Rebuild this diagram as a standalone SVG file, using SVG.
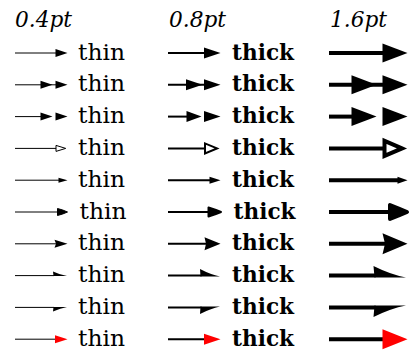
<svg xmlns="http://www.w3.org/2000/svg" width="415" height="352" viewBox="0 0 415 352">
<style>
.ln{stroke:#000;fill:none}
.w1{stroke-width:1}.w2{stroke-width:2}.w4{stroke-width:4}
.hd{fill:#000}
.red{fill:#f00}
.open{fill:#fff;stroke:#000;stroke-linejoin:miter}
.rnd{fill:#000;stroke:#000;stroke-linejoin:round}
.hdr{font-style:italic;font-size:22px}
.thin{font-size:23px}
.thick{font-weight:bold;font-size:23px}
</style>
<rect width="415" height="352" fill="#fff"/>
<g id="headers" font-family="DejaVu Serif, serif" fill="#000">
<text class="hdr" x="15" y="26.5" textLength="57" lengthAdjust="spacingAndGlyphs">0.4pt</text>
<text class="hdr" x="169" y="26.5" textLength="57" lengthAdjust="spacingAndGlyphs">0.8pt</text>
<text class="hdr" x="330" y="26.5" textLength="57" lengthAdjust="spacingAndGlyphs">1.6pt</text>
</g>
<g id="labels" font-family="DejaVu Serif, serif" fill="#000">
<g id="row1"><text class="thin" x="78" y="59.5" textLength="47" lengthAdjust="spacingAndGlyphs">thin</text><text class="thick" x="232" y="59.5" textLength="62" lengthAdjust="spacingAndGlyphs">thick</text></g>
<g id="row2"><text class="thin" x="78" y="91.3" textLength="47" lengthAdjust="spacingAndGlyphs">thin</text><text class="thick" x="232" y="91.3" textLength="62" lengthAdjust="spacingAndGlyphs">thick</text></g>
<g id="row3"><text class="thin" x="78" y="123.1" textLength="47" lengthAdjust="spacingAndGlyphs">thin</text><text class="thick" x="232" y="123.1" textLength="62" lengthAdjust="spacingAndGlyphs">thick</text></g>
<g id="row4"><text class="thin" x="78" y="154.9" textLength="47" lengthAdjust="spacingAndGlyphs">thin</text><text class="thick" x="232" y="154.9" textLength="62" lengthAdjust="spacingAndGlyphs">thick</text></g>
<g id="row5"><text class="thin" x="78" y="186.7" textLength="47" lengthAdjust="spacingAndGlyphs">thin</text><text class="thick" x="232" y="186.7" textLength="62" lengthAdjust="spacingAndGlyphs">thick</text></g>
<g id="row6"><text class="thin" x="79.5" y="218.5" textLength="47" lengthAdjust="spacingAndGlyphs">thin</text><text class="thick" x="233.5" y="218.5" textLength="62" lengthAdjust="spacingAndGlyphs">thick</text></g>
<g id="row7"><text class="thin" x="78" y="250.3" textLength="47" lengthAdjust="spacingAndGlyphs">thin</text><text class="thick" x="232" y="250.3" textLength="62" lengthAdjust="spacingAndGlyphs">thick</text></g>
<g id="row8"><text class="thin" x="78" y="282.1" textLength="47" lengthAdjust="spacingAndGlyphs">thin</text><text class="thick" x="232" y="282.1" textLength="62" lengthAdjust="spacingAndGlyphs">thick</text></g>
<g id="row9"><text class="thin" x="78" y="313.9" textLength="47" lengthAdjust="spacingAndGlyphs">thin</text><text class="thick" x="232" y="313.9" textLength="62" lengthAdjust="spacingAndGlyphs">thick</text></g>
<g id="row10"><text class="thin" x="78" y="345.7" textLength="47" lengthAdjust="spacingAndGlyphs">thin</text><text class="thick" x="232" y="345.7" textLength="62" lengthAdjust="spacingAndGlyphs">thick</text></g>
</g>
<g id="arrows">
<g id="a1">
<path class="ln w1" d="M15 53H56.5"/><path class="hd" transform="translate(67.5,53)" d="M0,0L-12,-4L-12,4Z"/>
<path class="ln w2" d="M168 53H205"/><path class="hd" transform="translate(220.5,53)" d="M0,0L-16.5,-5.5L-16.5,5.5Z"/>
<path class="ln w4" d="M329 53H383.5"/><path class="hd" transform="translate(407.5,53)" d="M0,0L-25,-9.5L-25,9.5Z"/>
</g>
<g id="a2">
<path class="ln w1" d="M15 84.8H56.5"/><path class="hd" transform="translate(67.5,84.8)" d="M0,0L-12,-4L-12,4Z"/><path class="hd" transform="translate(52.5,84.8)" d="M0,0L-12,-4L-12,4Z"/>
<path class="ln w2" d="M168 84.8H205"/><path class="hd" transform="translate(220.5,84.8)" d="M0,0L-16.5,-5.5L-16.5,5.5Z"/><path class="hd" transform="translate(202.5,84.8)" d="M0,0L-16.5,-5.5L-16.5,5.5Z"/>
<path class="ln w4" d="M329 84.8H383.5"/><path class="hd" transform="translate(407.5,84.8)" d="M0,0L-25,-9.5L-25,9.5Z"/><path class="hd" transform="translate(376.5,84.8)" d="M0,0L-25,-9.5L-25,9.5Z"/>
</g>
<g id="a3">
<path class="ln w1" d="M15 116.6H41.5"/><path class="hd" transform="translate(67.5,116.6)" d="M0,0L-12,-4L-12,4Z"/><path class="hd" transform="translate(52.5,116.6)" d="M0,0L-12,-4L-12,4Z"/>
<path class="ln w2" d="M168 116.6H187"/><path class="hd" transform="translate(220.5,116.6)" d="M0,0L-16.5,-5.5L-16.5,5.5Z"/><path class="hd" transform="translate(201.5,116.6)" d="M0,0L-15,-5.5L-15,5.5Z"/>
<path class="ln w4" d="M329 116.6H352.5"/><path class="hd" transform="translate(407.5,116.6)" d="M0,0L-25,-9.5L-25,9.5Z"/><path class="hd" transform="translate(376.5,116.6)" d="M0,0L-25,-9.5L-25,9.5Z"/>
</g>
<g id="a4">
<path class="ln w1" d="M15 148.4H56"/><path class="open w1" transform="translate(67.5,148.4)" d="M-1.8,0L-11.5,-3L-11.5,3Z"/>
<path class="ln w2" d="M168 148.4H205"/><path class="open w2" transform="translate(220.5,148.4)" d="M-3.5,0L-15.5,-5L-15.5,5Z"/>
<path class="ln w4" d="M329 148.4H384.5"/><path class="open w4" transform="translate(407.5,148.4)" d="M-5.5,0L-23,-7.5L-23,7.5Z"/>
</g>
<g id="a5">
<path class="ln w1" d="M15 180.2H59.5"/><path class="hd" transform="translate(67.5,180.2)" d="M0,0L-9,-2.5L-9,2.5Z"/>
<path class="ln w2" d="M168 180.2H210.5"/><path class="hd" transform="translate(220.5,180.2)" d="M0,0L-11,-3.5L-11,3.5Z"/>
<path class="ln w4" d="M329 180.2H398.5"/><path class="hd" transform="translate(407.5,180.2)" d="M0,0L-10,-3.5L-10,3.5Z"/>
</g>
<g id="a6">
<path class="ln w1" d="M15 212H58"/><path class="rnd w1" transform="translate(67.5,212)" d="M0,0Q-4.5,-2.2-10,-3.5L-10,3.5Q-4.5,2.2 0,0Z"/>
<path class="ln w2" d="M168 212H209"/><path class="rnd w2" transform="translate(221,212)" d="M0,0Q-6,-2.5-12.5,-4.5L-12.5,4.5Q-6,2.5 0,0Z"/>
<path class="ln w4" d="M329 212H391"/><path class="rnd w4" transform="translate(407,212)" d="M0,0Q-8,-3.5-17,-7L-17,7Q-8,3.5 0,0Z"/>
</g>
<g id="a7">
<path class="ln w1" d="M15 243.8H57"/><path class="hd" transform="translate(67.5,243.8)" d="M0,0L-13,-4L-11.5,0L-13,4Z"/>
<path class="ln w2" d="M168 243.8H207"/><path class="hd" transform="translate(220.5,243.8)" d="M0,0L-16,-6.5L-14.5,0L-16,6.5Z"/>
<path class="ln w4" d="M329 243.8H386"/><path class="hd" transform="translate(407.5,243.8)" d="M0,0L-25,-10.5L-22.5,0L-25,10.5Z"/>
</g>
<g id="a8">
<path class="ln w1" d="M15 275.6H54"/><path class="hd" transform="translate(67.5,275.6)" d="M-0.5,0.5Q-7,-0.5-14.5,-4L-14,0.5Z"/>
<path class="ln w2" d="M168 275.6H201.5"/><path class="hd" transform="translate(220.5,275.6)" d="M-0.5,1Q-10,-1-20.5,-6.5L-20,1Z"/>
<path class="ln w4" d="M329 275.6H375.5"/><path class="hd" transform="translate(407.5,275.6)" d="M-1.5,2Q-17,-1-34,-9.5L-33,2Z"/>
</g>
<g id="a9">
<path class="ln w1" d="M15 307.4H54"/><path class="hd" transform="translate(67.5,307.4)" d="M-0.5,-0.5Q-7,0.5-14.5,4L-14,-0.5Z"/>
<path class="ln w2" d="M168 307.4H201.5"/><path class="hd" transform="translate(220.5,307.4)" d="M-0.5,-1Q-10,1-20.5,6.5L-20,-1Z"/>
<path class="ln w4" d="M329 307.4H375.5"/><path class="hd" transform="translate(407.5,307.4)" d="M-1.5,-2Q-17,1-34,9.5L-33,-2Z"/>
</g>
<g id="a10">
<path class="ln w1" d="M15 339.2H56"/><path class="red" transform="translate(67.5,339.2)" d="M0,0L-12.5,-4L-12.5,4Z"/>
<path class="ln w2" d="M168 339.2H205"/><path class="red" transform="translate(220.5,339.2)" d="M0,0L-16.5,-5.5L-16.5,5.5Z"/>
<path class="ln w4" d="M329 339.2H383.5"/><path class="red" transform="translate(407.5,339.2)" d="M0,0L-25,-10L-25,10Z"/>
</g>
</g>
</svg>
